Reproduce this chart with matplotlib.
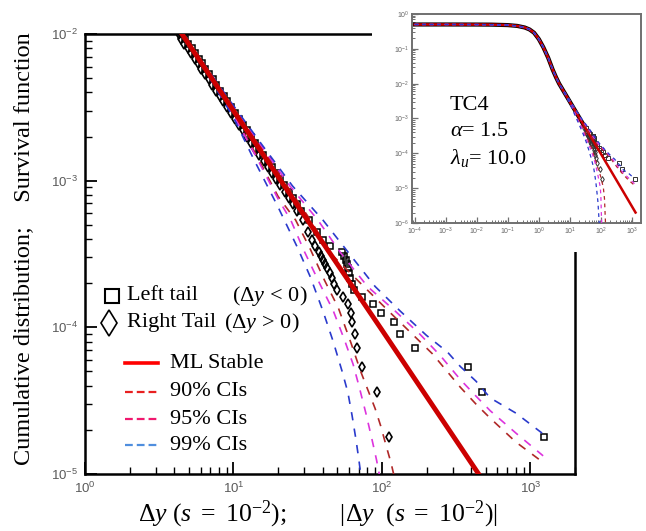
import matplotlib
matplotlib.use('Agg')
import matplotlib.pyplot as plt
from matplotlib.patches import Rectangle
from matplotlib.lines import Line2D
from matplotlib.ticker import LogLocator, LogFormatterMathtext, NullFormatter

plt.rcParams['font.family'] = 'Liberation Sans'
plt.rcParams['mathtext.fontset'] = 'custom'
plt.rcParams['mathtext.rm'] = 'Liberation Serif'
plt.rcParams['mathtext.it'] = 'Liberation Serif:italic'
plt.rcParams['mathtext.bf'] = 'Liberation Serif:bold'

# ML stable fit (survival function)
ml_x = [4.5, 10, 30, 100, 440, 1300]
ml_S = [1e-2, 3.0e-3, 5.8e-4, 9.6e-5, 1.03e-5, 2.0e-6]

# body of the distribution (inset only)
body_x = [1e-4, 1e-3, 1e-2, 0.03, 0.1, 0.2, 0.35, 0.5, 0.7, 1.0, 1.4, 2.0, 2.8, 3.6]
body_S = [0.5, 0.5, 0.498, 0.495, 0.48, 0.455, 0.41, 0.36, 0.29, 0.19, 0.11, 0.055, 0.025, 0.015]

# confidence bands, lower / upper
ci90_lo_x = [4.5, 7, 10, 14, 20, 26.2, 33, 41, 51, 62, 72, 80, 90, 98, 109, 115, 120, 130, 140]
ci90_lo_S = [1e-2, 5.1e-3, 2.85e-3, 1.55e-3, 7.8e-4, 5.4e-4, 3.4e-4, 2.1e-4, 1.35e-4, 7.8e-5, 5.0e-5,
             3.8e-5, 2.8e-5, 2.14e-5, 1.45e-5, 1.2e-5, 1e-5, 5e-6, 1e-6]
ci95_lo_x = [4.5, 7, 10, 14, 20, 24.3, 30, 38, 47, 56, 64, 70, 78, 86, 92, 96, 100, 105]
ci95_lo_S = [1e-2, 5.0e-3, 2.8e-3, 1.5e-3, 7.5e-4, 5.4e-4, 3.3e-4, 2e-4, 1.3e-4, 8.2e-5, 5.6e-5,
             4e-5, 2.6e-5, 1.7e-5, 1.25e-5, 1e-5, 5e-6, 1e-6]
ci99_lo_x = [4.5, 7, 10, 13.7, 20, 27, 33, 40, 47, 54, 59, 63, 67, 70, 72, 80, 88]
ci99_lo_S = [1e-2, 4.9e-3, 2.7e-3, 1.4e-3, 6.6e-4, 3.5e-4, 2.2e-4, 1.3e-4, 8e-5, 5e-5, 3.6e-5,
             2.5e-5, 1.7e-5, 1.25e-5, 1e-5, 4e-6, 1e-6]
ci90_hi_x = [4.5, 7, 10, 15, 23, 33, 45, 70, 111, 160, 219, 338, 430, 537, 800, 1260]
ci90_hi_S = [1e-2, 5.3e-3, 3.15e-3, 1.75e-3, 9.2e-4, 5.4e-4, 3.2e-4, 2.05e-4, 1.29e-4, 9e-5,
             6.6e-5, 3.9e-5, 3.0e-5, 2.4e-5, 1.65e-5, 1.17e-5]
ci95_hi_x = [4.5, 7, 10, 15, 24, 37, 53, 80, 123, 180, 248, 338, 430, 537, 800, 1220]
ci95_hi_S = [1e-2, 5.35e-3, 3.2e-3, 1.8e-3, 9.2e-4, 5.4e-4, 3.2e-4, 1.9e-4, 1.29e-4, 9e-5,
             6.4e-5, 4.4e-5, 3.4e-5, 2.7e-5, 1.9e-5, 1.33e-5]
ci99_hi_x = [4.5, 7, 10, 15, 25, 40, 60, 90, 133, 200, 276, 338, 430, 537, 800, 1200]
ci99_hi_S = [1e-2, 5.4e-3, 3.25e-3, 1.85e-3, 9.2e-4, 5.4e-4, 3.2e-4, 1.9e-4, 1.29e-4, 8.8e-5,
             6.8e-5, 5.4e-5, 4.3e-5, 3.3e-5, 2.6e-5, 1.9e-5]

# empirical tails: dense part
band_S = [1e-2, 9.3e-3, 8.6e-3, 8e-3, 7.4e-3, 6.8e-3, 6.3e-3, 5.8e-3, 5.3e-3, 4.9e-3, 4.5e-3,
          4.1e-3, 3.8e-3, 3.5e-3, 3.2e-3, 2.9e-3, 2.65e-3, 2.4e-3, 2.2e-3, 2.0e-3, 1.82e-3,
          1.65e-3, 1.5e-3, 1.36e-3, 1.23e-3, 1.12e-3, 1.02e-3, 9.3e-4, 8.4e-4, 7.6e-4, 6.9e-4, 6.2e-4]
band_left_x = [4.5, 4.72, 4.98, 5.22, 5.5, 5.82, 6.12, 6.47, 6.87, 7.24, 7.66, 8.15, 8.58, 9.06,
               9.62, 10.27, 10.9, 11.66, 12.35, 13.16, 14.0, 14.96, 15.94, 17.0, 18.2, 19.4,
               20.6, 21.9, 23.5, 25.1, 26.8, 28.7]
band_right_x = [4.3, 4.44, 4.68, 4.91, 5.17, 5.47, 5.75, 6.08, 6.46, 6.81, 7.2, 7.66, 8.07, 8.52,
                9.04, 9.65, 10.25, 10.96, 11.6, 12.37, 13.16, 14.06, 14.98, 15.98, 17.1, 18.24,
                19.36, 20.6, 22.1, 23.6, 25.2, 27.0]
# empirical tails: extreme part
tail_S = [1.8e-5, 3.6e-5, 5.4e-5, 7.2e-5, 9.0e-5, 1.08e-4, 1.26e-4, 1.44e-4, 1.62e-4, 1.8e-4,
          1.98e-4, 2.16e-4, 2.34e-4, 2.52e-4, 2.7e-4, 2.88e-4, 3.06e-4, 3.24e-4, 3.6e-4, 3.96e-4,
          4.5e-4, 5.4e-4]
tail_left_x = [1240, 475, 382, 168, 133, 120, 98, 86.5, 74, 64.4, 62.5, 61, 60, 59, 58, 57, 56,
               54, 45, 40, 36.5, 32.5]
tail_right_x = [112, 93, 74, 68.5, 65.4, 63.4, 61.5, 58.7, 54.3, 49.5, 47.5, 46, 44.5, 43, 41.5,
                40, 38.8, 37.6, 35.5, 34, 31.8, 29.5]

c_red, c_mag, c_blue = '#b02828', '#dd33dd', '#2a3acc'
ci_lines = [(ci90_lo_x, ci90_lo_S, c_red), (ci90_hi_x, ci90_hi_S, c_red),
            (ci95_lo_x, ci95_lo_S, c_mag), (ci95_hi_x, ci95_hi_S, c_mag),
            (ci99_lo_x, ci99_lo_S, c_blue), (ci99_hi_x, ci99_hi_S, c_blue)]

W, H = 646, 531
fig = plt.figure(figsize=(W / 100, H / 100), dpi=100)

# ---- main panel
ax = fig.add_axes([85 / W, 1 - 474 / H, (575 - 85) / W, (474 - 34) / H])
ax.set_xscale('log')
ax.set_yscale('log')

ax.plot(band_left_x + tail_left_x, band_S + tail_S, ls='none', marker='s', ms=4,
        mfc='none', mec='k', mew=1.1, zorder=2)
ax.plot(band_right_x + tail_right_x, band_S + tail_S, ls='none', marker='d', ms=5,
        mfc='none', mec='k', mew=1.2, zorder=2)
for xs, ss, c in ci_lines:
    ax.plot(xs, ss, color=c, lw=1.2, dashes=(5, 5), zorder=3)
ax.plot(ml_x, ml_S, color='#cc0000', lw=3.5, zorder=4)

ax.set_xlim(1, 2000)
ax.set_ylim(1e-5, 1e-2)
for s in ax.spines.values():
    s.set_linewidth(1.8)
ax.xaxis.set_major_locator(LogLocator(base=10, numticks=10))
ax.yaxis.set_major_locator(LogLocator(base=10, numticks=10))
ax.xaxis.set_minor_locator(LogLocator(base=10, subs=range(2, 10), numticks=20))
ax.yaxis.set_minor_locator(LogLocator(base=10, subs=range(2, 10), numticks=20))
ax.xaxis.set_minor_formatter(NullFormatter())
ax.yaxis.set_minor_formatter(NullFormatter())
ax.xaxis.set_major_formatter(LogFormatterMathtext())
ax.yaxis.set_major_formatter(LogFormatterMathtext())
ax.tick_params(which='both', direction='in', top=False, right=False,
               labelcolor='#5a5a5a', labelsize=9.5)
ax.tick_params(which='major', length=8.5, width=1.3, pad=5)
ax.tick_params(which='minor', length=5, width=1.0)

serif = 'Liberation Serif'
fig.text(318 / W, 1 - 514 / H,
         r'$\Delta y\ (s\ =\ 10^{-2});\qquad\ \ |\Delta y\ \ (s\ =\ 10^{-2})|$',
         ha='center', va='center', fontsize=18.5, family=serif)
fig.text(24 / W, 1 - 249 / H, 'Cumulative distribution;    Survival function',
         rotation=90, ha='center', va='center', fontsize=17.5, family=serif)

# legend, drawn by hand
fig.add_artist(Line2D([112 / W], [1 - 296 / H], marker='s', ms=10.5, mfc='none', mec='k', mew=1.5))
fig.add_artist(Line2D([109 / W], [1 - 323 / H], marker='d', ms=13, mfc='none', mec='k', mew=1.2))
fig.text(127 / W, 1 - 296 / H, 'Left tail', va='center', fontsize=16, family=serif)
fig.text(232 / W, 1 - 296 / H, r'$(\Delta y\,<\,0)$', va='center', fontsize=16, family=serif)
fig.text(127 / W, 1 - 323 / H, 'Right Tail', va='center', fontsize=16, family=serif)
fig.text(224 / W, 1 - 323 / H, r'$(\Delta y\,>\,0)$', va='center', fontsize=16, family=serif)
legend_rows = [('ML Stable', '#ff0000', '-', 363),
               ('90% CIs', '#e82020', '--', 392),
               ('95% CIs', '#f0186e', '--', 419),
               ('99% CIs', '#4f8ede', '--', 445)]
for label, c, ls, yy in legend_rows:
    ln = Line2D([125 / W, 158 / W], [1 - yy / H] * 2, color=c,
                lw=2.6 if ls == '-' else 1.6, ls=ls)
    if ls == '--':
        ln.set_dashes((3.5, 1.8))
    fig.add_artist(ln)
    fig.text(170 / W, 1 - yy / H, label, va='center', fontsize=16, family=serif)

# ---- inset
fig.add_artist(Rectangle((372 / W, 1 - 252 / H), 1 - 372 / W, 252 / H,
                         transform=fig.transFigure, facecolor='white', edgecolor='none', zorder=1))
ax2 = fig.add_axes([412 / W, 1 - 223 / H, (641 - 412) / W, (223 - 14) / H], zorder=2)
ax2.set_xscale('log')
ax2.set_yscale('log')
ax2.plot(body_x + band_left_x, body_S + band_S, color='k', lw=3, zorder=2)
ax2.plot(tail_left_x, tail_S, ls='none', marker='s', ms=2.5, mfc='none', mec='#333333', mew=0.7)
ax2.plot(tail_right_x, tail_S, ls='none', marker='d', ms=3, mfc='none', mec='#333333', mew=0.7)
ax2.plot(body_x + ml_x, body_S + ml_S, color='#cc0000', lw=1.8, zorder=3)
for xs, ss, c in ci_lines:
    ax2.plot(body_x + xs, body_S + ss, color=c, lw=0.9, dashes=(3, 3), zorder=4)
ax2.set_xlim(8.2e-5, 1950)
ax2.set_ylim(1e-6, 1)
for s in ax2.spines.values():
    s.set_linewidth(1.4)
    s.set_color('#707070')
ax2.xaxis.set_major_locator(LogLocator(base=10, numticks=12))
ax2.yaxis.set_major_locator(LogLocator(base=10, numticks=12))
ax2.xaxis.set_minor_locator(LogLocator(base=10, subs=range(2, 10), numticks=20))
ax2.yaxis.set_minor_locator(LogLocator(base=10, subs=range(2, 10), numticks=20))
ax2.xaxis.set_minor_formatter(NullFormatter())
ax2.yaxis.set_minor_formatter(NullFormatter())
ax2.xaxis.set_major_formatter(LogFormatterMathtext())
ax2.yaxis.set_major_formatter(LogFormatterMathtext())
ax2.tick_params(which='both', direction='in', top=False, right=False, color='#707070',
                labelcolor='#666666', labelsize=5, pad=2)
ax2.tick_params(which='major', length=4, width=0.9)
ax2.tick_params(which='minor', length=2, width=0.7)
ax2.text(450 / W, 1 - 106 / H, 'TC4', transform=fig.transFigure, va='center', fontsize=16, family=serif)
ax2.text(450 / W, 1 - 132 / H, r'$\alpha$= 1.5', transform=fig.transFigure, va='center',
         fontsize=16, family=serif)
ax2.text(450 / W, 1 - 158 / H, r'$\lambda_u$= 10.0', transform=fig.transFigure, va='center',
         fontsize=16, family=serif)

fig.savefig('out.png', dpi=100)
